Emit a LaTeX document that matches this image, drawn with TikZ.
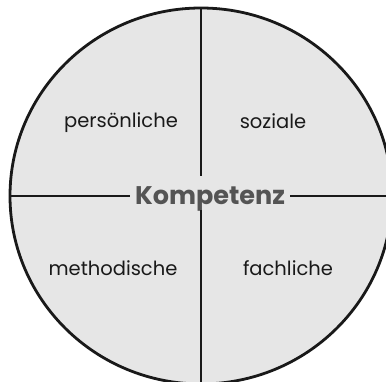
\documentclass[tikz,border=0pt]{standalone}
\usepackage{fontspec}
\setmainfont{Poppins}
\begin{document}
\begin{tikzpicture}[x=1pt,y=-1pt,
  lbl/.style={font=\fontsize{19.5}{19.5}\selectfont, text=black!90},
  core/.style={font=\fontsize{25.5}{25.5}\selectfont\bfseries, text=black!67, inner xsep=5pt, inner ysep=0pt},
  edge/.style={line width=2.8pt, black!90}]
\definecolor{ringfill}{HTML}{E6E6E6}
\useasboundingbox (0,0) rectangle (386,382);
\clip (0,0) rectangle (386,382);
\fill[ringfill] (201,196) ellipse [x radius=191, y radius=188];
\coordinate (top) at (201,8);
\coordinate (bot) at (201,384);
\coordinate (lft) at (10,196);
\coordinate (rgt) at (392,196);
\coordinate (ktop) at (201,176);
\coordinate (kbot) at (201,210);
\node[core] (k) at (210,199) {Kompetenz};
\draw[edge] (top) -- (ktop);
\draw[edge] (bot) -- (kbot);
\draw[edge] (lft) -- (k.west |- lft);
\draw[edge] (rgt) -- (k.east |- rgt);
\draw[edge] (201,196) ellipse [x radius=191, y radius=188];
\node[lbl] (p) at (121,123) {persönliche};
\node[lbl] (s) at (273,121) {soziale};
\node[lbl] (m) at (113,268) {methodische};
\node[lbl] (f) at (288,268) {fachliche};
\end{tikzpicture}
\end{document}
